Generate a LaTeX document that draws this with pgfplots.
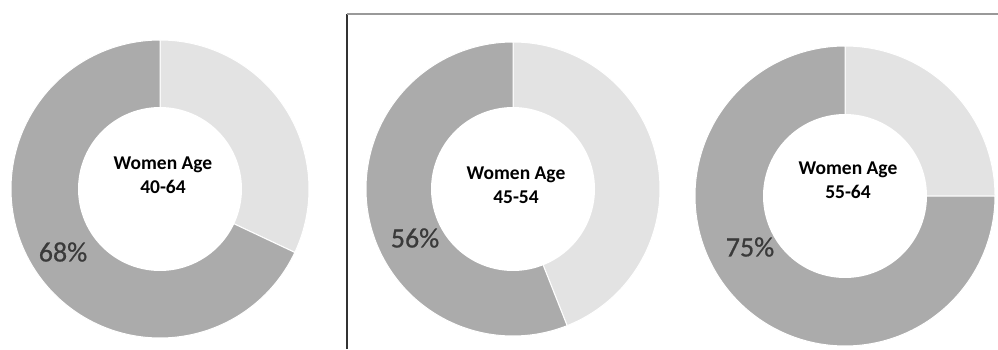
\documentclass[border=0pt]{standalone}
\usepackage{pgfplots}
\pgfplotsset{compat=1.18}
\usepackage{fontspec}
\setmainfont{Carlito}
\newfontfamily\pctfont[FakeBold=0.7]{Carlito}
\definecolor{darkg}{HTML}{ABABAB}
\definecolor{lightg}{HTML}{E3E3E3}
\definecolor{pct}{HTML}{3A3A3A}
% #1 cx, #2 cy, #3 R, #4 r, #5 share (%), #6 age group, #7 title y, #8 label x, #9 label y
\newcommand{\donut}[9]{%
\begin{axis}[at={(#1pt,#2pt)}, anchor=center, x=1pt, y=1pt,
  xmin=-155, xmax=155, ymin=-155, ymax=155, hide axis, clip=false]
  \addplot[fill=lightg, draw=white, line width=1pt, domain=90-3.6*(100-#5):90, samples=100]
    ({#3*cos(x)},{#3*sin(x)}) -- (axis cs:0,0) -- cycle;
  \addplot[fill=darkg, draw=white, line width=1pt, domain=90:90+3.6*#5, samples=150]
    ({#3*cos(x)},{#3*sin(x)}) -- (axis cs:0,0) -- cycle;
  \addplot[fill=white, draw=none, domain=0:360, samples=120]
    ({#4*cos(x)},{#4*sin(x)}) -- cycle;
  \node[font=\bfseries\fontsize{19.5}{24}\selectfont, align=center] at (axis cs:3,#7) {Women Age\\#6};
  \node[font=\pctfont\fontsize{28}{32}\selectfont, text=pct] at (axis cs:#8,#9) {#5\%};
\end{axis}}
\begin{document}
\begin{tikzpicture}
\useasboundingbox (0,0) rectangle (998pt,349pt);
\donut{160}{160}{149}{82}{68}{40-64}{14}{-97}{-63}
\donut{513}{160}{147}{82}{56}{45-54}{4}{-98}{-49}
\donut{845}{153}{150}{82}{75}{55-64}{16}{-95}{-51}
\draw[color=black!80, line width=1.2pt] (347pt,0) -- (347pt,335pt);
\draw[color=black!40, line width=1.2pt] (347pt,335pt) -- (998pt,335pt);
\end{tikzpicture}
\end{document}
